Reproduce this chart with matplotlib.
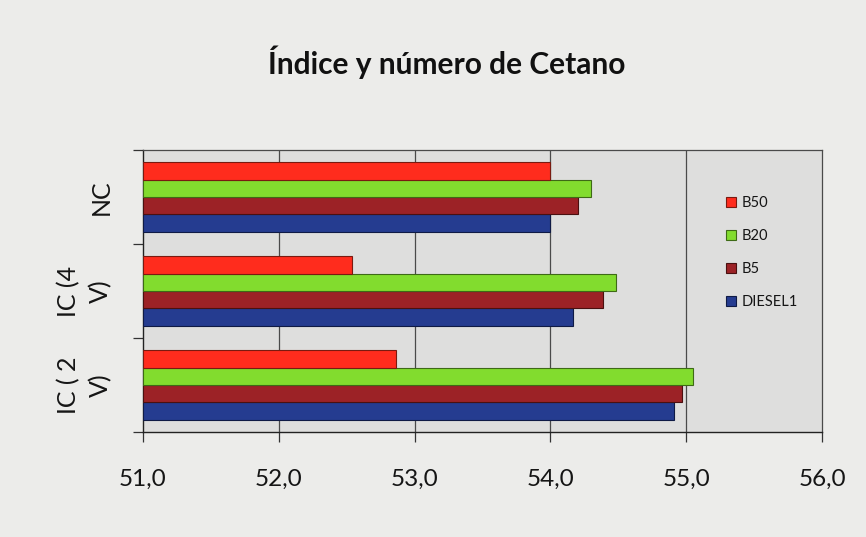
"""Horizontal grouped bars: cetane index / number per fuel blend."""

import numpy as np
import matplotlib

matplotlib.use("Agg")
import matplotlib.pyplot as plt
from matplotlib.ticker import FixedLocator

# categories bottom -> top, as in the reference
categories = ["IC ( 2\nV)", "IC (4\nV)", "NC"]

# series drawn bottom -> top inside each group
series_names = ["DIESEL1", "B5", "B20", "B50"]
diesel1 = [54.91, 54.17, 54.00]
b5 = [54.97, 54.39, 54.20]
b20 = [55.05, 54.48, 54.30]
b50 = [52.86, 52.54, 54.00]

x_ticks = [51.0, 52.0, 53.0, 54.0, 55.0, 56.0]
x_tick_labels = ["51,0", "52,0", "53,0", "54,0", "55,0", "56,0"]

title = "Índice y número de Cetano"

FONT = ["Lato", "DejaVu Sans"]
plt.rcParams["font.family"] = FONT

colors = {
    "DIESEL1": ("#253c90", "#0f1a45"),
    "B5": ("#9c2226", "#4a1010"),
    "B20": ("#82dc2e", "#3e6a16"),
    "B50": ("#ff2c1d", "#7a1a10"),
}

fig = plt.figure(figsize=(8.66, 5.37), dpi=100)
fig.patch.set_facecolor("#ececea")
ax = fig.add_axes([0.1651, 0.1955, 0.7841, 0.5251])
ax.set_facecolor("#dededd")

bar_h = 0.185
centers = np.arange(len(categories)) + 0.5
values = {"DIESEL1": diesel1, "B5": b5, "B20": b20, "B50": b50}

handles = {}
for k, name in enumerate(series_names):
    face, edge = colors[name]
    bars = ax.barh(
        centers + (k - 1.5) * bar_h,
        np.array(values[name]) - x_ticks[0],
        left=x_ticks[0],
        height=bar_h,
        color=face,
        edgecolor=edge,
        linewidth=0.8,
        label=name,
        zorder=3,
    )
    handles[name] = bars

ax.set_xlim(x_ticks[0], x_ticks[-1])
ax.set_ylim(0, len(categories))

# vertical grid lines
for xv in x_ticks[1:-1]:
    ax.axvline(xv, color="#4a4a4a", linewidth=0.9, zorder=1)

ax.set_xticks(x_ticks)
ax.set_xticklabels(x_tick_labels, fontsize=17.5, color="#151515")
ax.tick_params(axis="x", direction="out", length=7.5, width=0.9,
               color="#333333", pad=19)

ax.set_yticks(centers)
ax.set_yticklabels(categories, rotation=90, va="center", ha="right",
                   multialignment="center", fontsize=18, color="#151515",
                   linespacing=1.45)
ax.tick_params(axis="y", which="major", length=0, pad=22)
ax.yaxis.set_minor_locator(FixedLocator(np.arange(len(categories) + 1)))
ax.tick_params(axis="y", which="minor", direction="out", length=7,
               width=0.9, color="#333333")

for side in ("left", "bottom"):
    ax.spines[side].set_color("#222222")
    ax.spines[side].set_linewidth(1.0)
for side in ("top", "right"):
    ax.spines[side].set_color("#4a4a4a")
    ax.spines[side].set_linewidth(0.9)

order = ["B50", "B20", "B5", "DIESEL1"]
leg = ax.legend(
    [handles[n] for n in order],
    order,
    loc="center left",
    bbox_to_anchor=(0.838, 0.530),
    bbox_transform=fig.transFigure,
    frameon=False,
    fontsize=10.5,
    handlelength=0.7,
    handleheight=0.7,
    handletextpad=0.4,
    labelspacing=1.3,
    borderpad=0,
    borderaxespad=0,
)
for t in leg.get_texts():
    t.set_color("#151515")

fig.text(0.516, 0.885, title, ha="center", va="center", fontsize=21.5,
         fontweight="bold", color="#111111")

fig.savefig("out.png", dpi=100, facecolor=fig.get_facecolor())
